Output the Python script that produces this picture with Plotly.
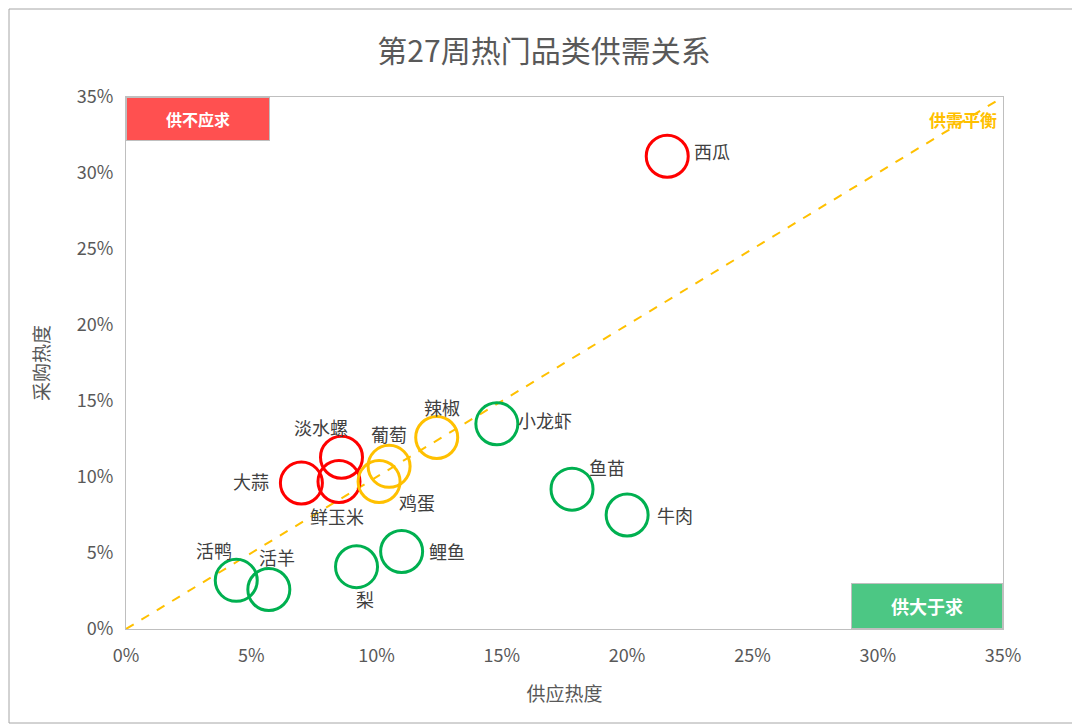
import plotly.graph_objects as go

names = ["西瓜", "辣椒", "小龙虾", "淡水螺", "葡萄", "大蒜", "鲜玉米", "鸡蛋", "鱼苗", "牛肉", "鲤鱼", "梨", "活鸭", "活羊"]
supply = [21.6, 12.4, 14.8, 8.6, 10.5, 7.0, 8.5, 10.1, 17.8, 20.0, 11.0, 9.2, 4.4, 5.7]
demand = [31.1, 12.6, 13.5, 11.3, 10.7, 9.6, 9.7, 9.7, 9.2, 7.5, 5.1, 4.1, 3.2, 2.6]
groups = ["r", "y", "g", "r", "y", "r", "r", "y", "g", "g", "g", "g", "g", "g"]
# label offsets in px (dx, dy) relative to point
offs = [(45, -5), (5, -30), (48, -4), (-20, -30), (0, -32), (-50, -2), (-2, 34), (38, 20), (35, -22), (48, 0), (45, 0), (8, 32), (-22, -30), (8, -32)]

colors = {"r": "#FF0000", "y": "#FFC000", "g": "#00B050"}

fig = go.Figure()
fig.add_trace(go.Scatter(x=[0, 0.35], y=[0, 0.35], mode="lines",
                         line=dict(color="#FFC000", width=2, dash="dash"), hoverinfo="skip"))
fig.add_trace(go.Scatter(x=[v / 100 for v in supply], y=[v / 100 for v in demand], mode="markers",
                         marker=dict(size=42, color="rgba(0,0,0,0)",
                                     line=dict(width=3, color=[colors[g] for g in groups])),
                         text=names))

for n, sx, dy_, (ox, oy) in zip(names, supply, demand, offs):
    fig.add_annotation(x=sx / 100, y=dy_ / 100, text=n, showarrow=False, xshift=ox, yshift=-oy,
                       font=dict(size=18, color="#404040"))

fig.add_annotation(xref="paper", yref="paper", x=0, y=1, xanchor="left", yanchor="top",
                   text="<b>供不应求</b>", showarrow=False, bgcolor="#FF5050", bordercolor="#BFBFBF",
                   font=dict(size=16, color="white"), width=140, height=40)
fig.add_annotation(xref="paper", yref="paper", x=1, y=0, xanchor="right", yanchor="bottom",
                   text="<b>供大于求</b>", showarrow=False, bgcolor="#4CC784", bordercolor="#BFBFBF",
                   font=dict(size=18, color="white"), width=148, height=42)
fig.add_annotation(xref="paper", yref="paper", x=0.995, y=0.985, xanchor="right", yanchor="top",
                   text="<b>供需平衡</b>", showarrow=False, font=dict(size=17, color="#FFC000"))

fig.update_layout(
    width=1072, height=718, showlegend=False,
    paper_bgcolor="white", plot_bgcolor="white",
    font=dict(family="Noto Sans CJK SC", color="#595959"),
    title=dict(text="第27周热门品类供需关系", x=0.5, y=0.94, yanchor="middle", font=dict(size=30, color="#595959")),
    margin=dict(l=118, r=77, t=89, b=97),
    xaxis=dict(range=[0, 0.35], dtick=0.05, tickformat=".0%", showgrid=False, zeroline=False,
               showline=True, linecolor="#BFBFBF", mirror=True, ticks="", ticklabelstandoff=10,
               title=dict(text="供应热度", font=dict(size=19), standoff=22), tickfont=dict(size=18)),
    yaxis=dict(range=[0, 0.35], dtick=0.05, tickformat=".0%", showgrid=False, zeroline=False,
               showline=True, linecolor="#BFBFBF", mirror=True, ticks="", ticklabelstandoff=8,
               title=dict(text="采购热度", font=dict(size=19), standoff=22), tickfont=dict(size=18)),
    shapes=[dict(type="rect", xref="paper", yref="paper", x0=-0.1334, y0=-0.1767, x1=1.0844, y1=1.1654,
                 line=dict(color="#A6A6A6", width=1))],
)
fig.write_html("out.html")
